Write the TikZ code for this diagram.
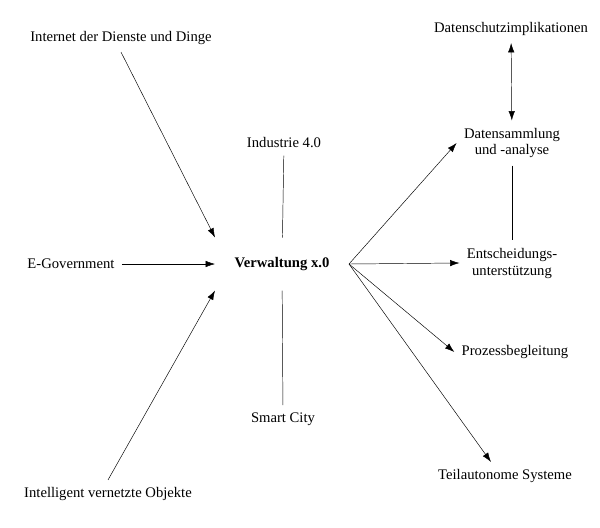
\documentclass[tikz,border=0pt]{standalone}
\usepackage{fontspec}
\setmainfont{Liberation Serif}
\usetikzlibrary{positioning,arrows.meta}

\begin{document}
\begin{tikzpicture}[x=0.03cm,y=-0.03cm,>={Latex[length=8pt,width=5.5pt]},
    every node/.style={font=\fontsize{12.5}{14.5}\selectfont,align=center,outer sep=3pt},
    link/.style={->,thin}]
    \useasboundingbox (0,0) rectangle (600,527);
    \node[minimum width=134*0.03cm,minimum height=53*0.03cm,outer sep=0pt,font=\fontsize{12.5}{14.5}\selectfont\bfseries] (vw) at (282,264) {Verwaltung x.0};
    \node (inet)  at (121,38)  {Internet der Dienste und Dinge};
    \node (egov)  at (71,264)  {E-Government};
    \node (obj)   at (108,494) {Intelligent vernetzte Objekte};
    \node (ind)   at (284,143) {Industrie 4.0};
    \node (sc)    at (283,419) {Smart City};
    \node (dsi)   at (511,29)  {Datenschutzimplikationen};
    \node (dsa)   at (512,143) {Datensammlung\\und -analyse};
    \node (ent)   at (512,263) {Entscheidungs-\\unterstützung};
    \node (proz)  at (515,352) {Prozessbegleitung};
    \node (teil)  at (505,476) {Teilautonome Systeme};
    % inputs
    \draw[link] (inet.south) -- (vw.north west);
    \draw[link] (egov) -- (vw.west);
    \draw[link] (obj.north) -- (vw.south west);
    \draw (ind) -- (vw);
    \draw (vw) -- (sc);
    % outputs
    \draw[link] (vw.east) -- (dsa.west);
    \draw[link] (vw.east) -- (ent.west);
    \draw[link] (vw.east) -- (proz.west);
    \draw[link] (vw.east) -- ([xshift=-12pt]teil.north);
    \draw[<->] (dsi) -- (dsa);
    \draw (dsa) -- (ent);
\end{tikzpicture}
\end{document}
